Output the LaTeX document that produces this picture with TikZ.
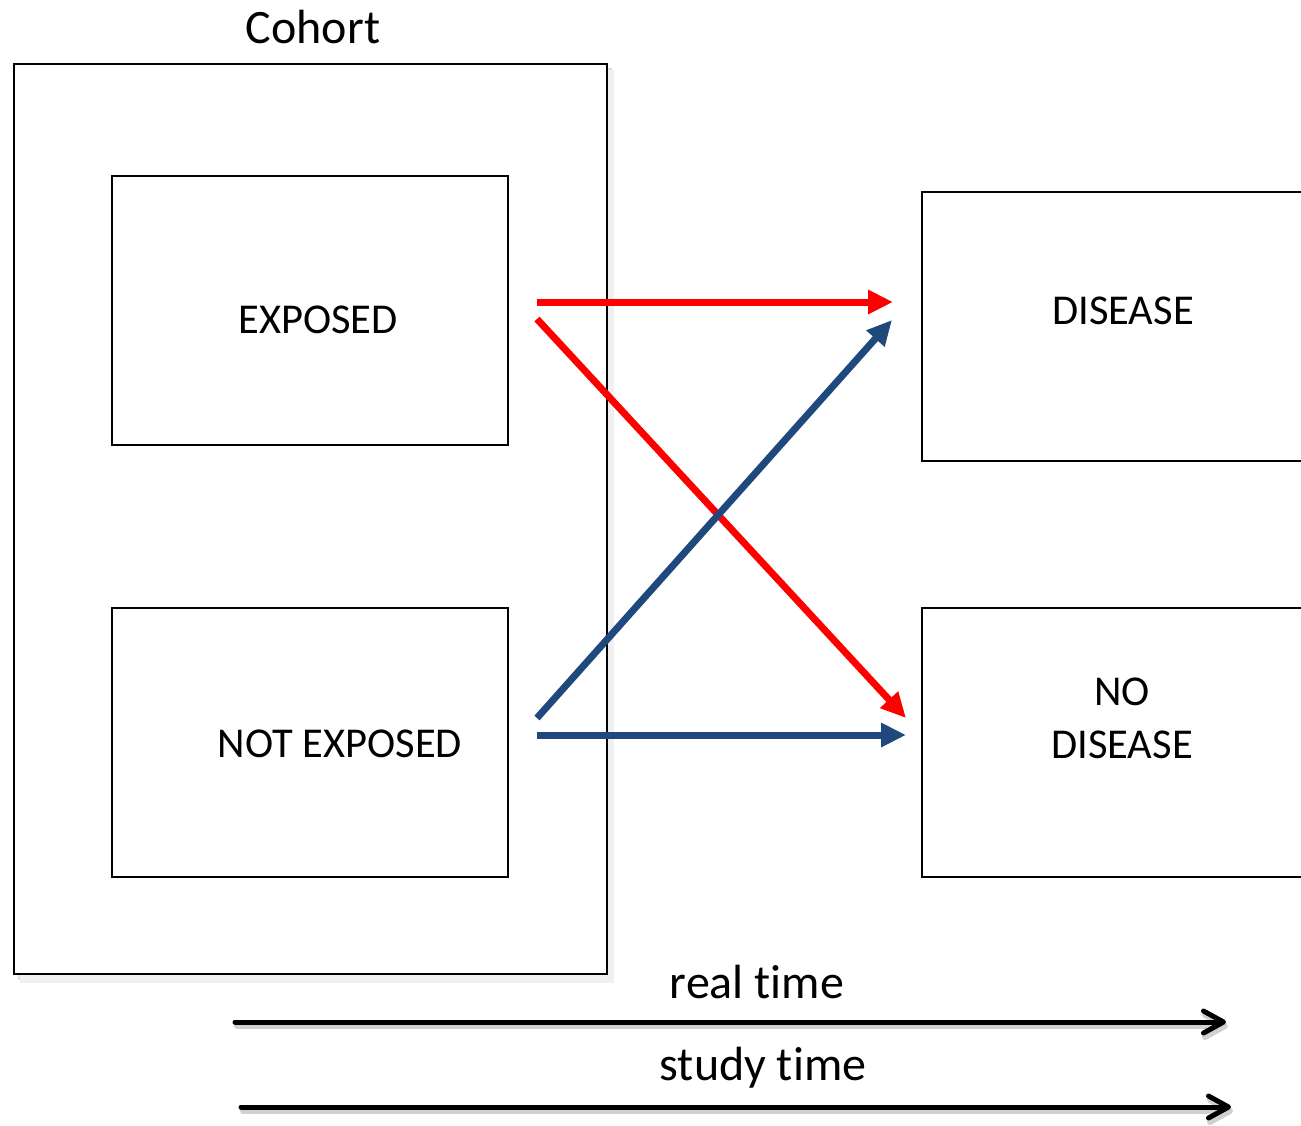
\documentclass[tikz,border=0pt]{standalone}
\usepackage{fontspec}
\setmainfont{Carlito}[Ligatures=NoCommon]
\usetikzlibrary{arrows.meta,calc}
\definecolor{arrowred}{RGB}{255,0,0}
\definecolor{arrowblue}{RGB}{31,73,125}
\begin{document}
\begin{tikzpicture}[x=1pt,y=-1pt,
  box/.style={draw=black,line width=2pt,minimum width=396pt,minimum height=269pt,inner sep=0pt,fill=white},
  lbl/.style={font=\fontsize{42.5}{53}\selectfont,inner sep=0pt,anchor=center},
  biglbl/.style={lbl,font=\fontsize{48}{56}\selectfont},
  flow/.style={line width=7pt,-{Triangle[length=25pt,width=23pt]}},
  timeline/.style={line width=5pt,line cap=round,-{Straight Barb[length=20pt,width=22pt,round]}},
  timeshadow/.style={line width=6pt,draw=black!18,line cap=round,-{Straight Barb[length=20pt,width=22pt,round]}}]
\useasboundingbox (0,0) rectangle (1301,1125);
\clip (0,0) rectangle (1301,1125);
\fill[white] (0,0) rectangle (1301,1125);

% cohort frame with its soft shadow
\fill[black!12] (18,68) rectangle (612,980);
\fill[black!6] (20,70) rectangle (614,983);
\node[draw=black,line width=2pt,fill=white,minimum width=593pt,minimum height=910pt,inner sep=0pt] (cohort) at (310.5,519) {};
\node[biglbl] (cohortlbl) at (313,27) {Cohort};

% exposure groups
\node[box] (exp) at (310,310.5) {};
\node[lbl] (explbl) at (318,320) {EXPOSED};
\node[box] (nexp) at (310,742.5) {};
\node[lbl] (nexplbl) at (340,744) {NOT EXPOSED};

% outcomes (run past the right edge)
\node[box,minimum width=400pt] (dis) at (1122,326.5) {};
\node[lbl] (dislbl) at (1123,311) {DISEASE};
\node[box,minimum width=400pt] (ndis) at (1122,742.5) {};
\node[lbl,align=center] (ndislbl) at (1122,718) {NO\\DISEASE};

% connector end points
\coordinate (e1) at (537,302);
\coordinate (e2) at (537,319);
\coordinate (n1) at (537,718);
\coordinate (n2) at (537,735);
\coordinate (d1) at (893,302);
\coordinate (d2) at (892,320);
\coordinate (o1) at (906,718);
\coordinate (o2) at (906,735);

\draw[flow,arrowred] (e1) -- (d1);
\draw[flow,arrowred] (e2) -- (o1);
\draw[flow,arrowblue] (n1) -- (d2);
\draw[flow,arrowblue] (n2) -- (o2);

% time axes
\coordinate (rt0) at (235,1022);
\coordinate (rt1) at (1226,1022);
\coordinate (st0) at (241,1107);
\coordinate (st1) at (1231,1107);
\draw[timeshadow] ($(rt0)+(2,4)$) -- ($(rt1)+(2,4)$);
\draw[timeshadow] ($(st0)+(2,4)$) -- ($(st1)+(2,4)$);
\draw[timeline] (rt0) -- (rt1);
\draw[timeline] (st0) -- (st1);
\node[biglbl] (rtlbl) at (757,982) {real time};
\node[biglbl] (stlbl) at (763,1068) {study time};
\end{tikzpicture}
\end{document}
